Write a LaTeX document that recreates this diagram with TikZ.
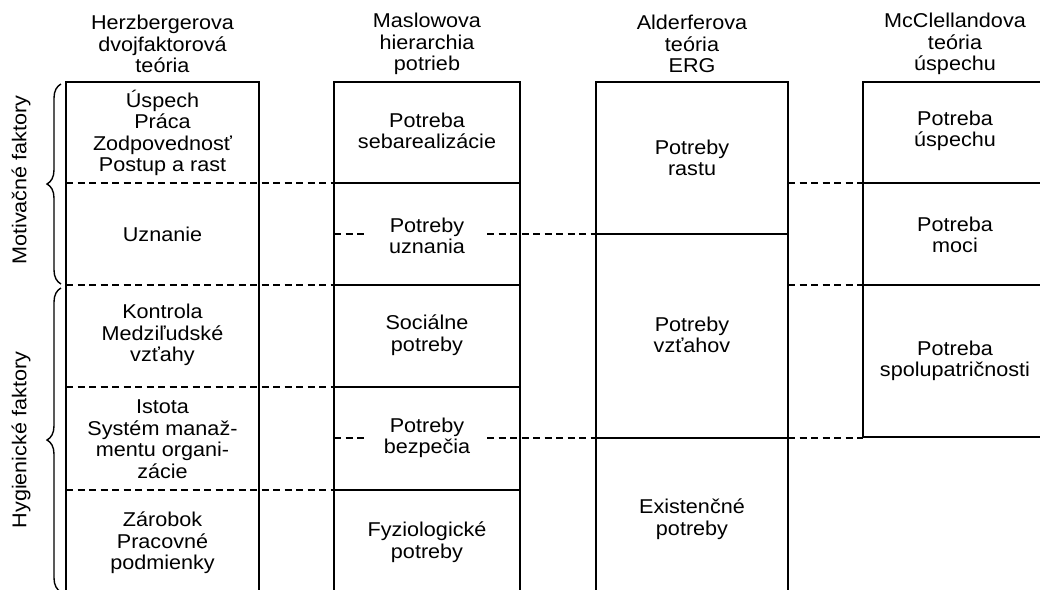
\documentclass[tikz,border=0pt]{standalone}
\usepackage{fontspec}
\setmainfont{Liberation Sans}[FakeStretch=1.08]
\usetikzlibrary{decorations.pathreplacing}
\begin{document}
\begin{tikzpicture}[x=1pt,y=-1pt,
  colbox/.style={line width=2.5pt, line join=miter},
  sepline/.style={line width=1.4pt},
  dashsep/.style={line width=1.4pt, dash pattern=on 7pt off 4.5pt},
  txt/.style={align=center, font=\fontsize{20}{21.5}\selectfont, inner sep=0pt},
  bracestyle/.style={line width=1.4pt, decorate, decoration={brace, amplitude=14pt, aspect=0.5}},
  ]
\useasboundingbox (0,0) rectangle (1040,589);

% column boxes
\draw[colbox] (66,592) -- (66,82) -- (259,82) -- (259,592);
\draw[colbox] (334,592) -- (334,82) -- (520,82) -- (520,592);
\draw[colbox] (596,592) -- (596,82) -- (788,82) -- (788,592);
\draw[colbox] (1045,82) -- (863,82) -- (863,437) -- (1045,437);

% named anchor coordinates
\coordinate (hL) at (66,0);
\coordinate (mL) at (334,0);
\coordinate (mR) at (520,0);
\coordinate (aL) at (596,0);
\coordinate (aR) at (788,0);
\coordinate (cL) at (863,0);
\coordinate (cR) at (1040,0);

% Maslow solid separators
\foreach \yy in {183,285,387,490} \draw[sepline] (mL |- 0,\yy) -- (mR |- 0,\yy);
% Herzberg dashed separators continuing to Maslow
\foreach \yy in {183,285,387,490} \draw[dashsep] (hL |- 0,\yy) -- (mL |- 0,\yy);
% Alderfer solid separators
\foreach \yy in {234,438} \draw[sepline] (aL |- 0,\yy) -- (aR |- 0,\yy);
% Maslow inner dashes to Alderfer
\foreach \yy in {234,438} {
  \draw[dashsep] (mL |- 0,\yy) -- (368,\yy);
  \draw[dashsep] (487,\yy) -- (aL |- 0,\yy);
}
% McClelland solid separators
\foreach \yy in {183,285} \draw[sepline] (cL |- 0,\yy) -- (cR |- 0,\yy);
% Alderfer to McClelland dashes
\foreach \yy in {183,285,438} \draw[dashsep] (aR |- 0,\yy) -- (cL |- 0,\yy);

% braces
\draw[bracestyle] (61,284) -- (61,84);
\draw[bracestyle] (61,592) -- (61,288);
\node[txt, rotate=90] (mot) at (21,180) {Motivačné faktory};
\node[txt, rotate=90] (hyg) at (21,440) {Hygienické faktory};

% titles
\node[txt] (t1) at (162.5,44) {Herzbergerova\\dvojfaktorová\\teória};
\node[txt] (t2) at (427,44) {Maslowova\\hierarchia\\potrieb};
\node[txt] (t3) at (692,44) {Alderferova\\teória\\ERG};
\node[txt] (t4) at (955,44) {McClellandova\\teória\\úspechu};

% Herzberg
\node[txt] (h1) at (162.5,133) {Úspech\\Práca\\Zodpovednosť\\Postup a rast};
\node[txt] (h2) at (162.5,234) {Uznanie};
\node[txt] (h3) at (162.5,335) {Kontrola\\Medziľudské\\vzťahy};
\node[txt] (h4) at (162.5,439) {Istota\\Systém manaž-\\mentu organi-\\zácie};
\node[txt] (h5) at (162.5,543) {Zárobok\\Pracovné\\podmienky};

% Maslow
\node[txt] (m1) at (427,131) {Potreba\\sebarealizácie};
\node[txt] (m2) at (427,236) {Potreby\\uznania};
\node[txt] (m3) at (427,335) {Sociálne\\potreby};
\node[txt] (m4) at (427,438) {Potreby\\bezpečia};
\node[txt] (m5) at (427,542) {Fyziologické\\potreby};

% Alderfer
\node[txt] (a1) at (692,158) {Potreby\\rastu};
\node[txt] (a2) at (692,335) {Potreby\\vzťahov};
\node[txt] (a3) at (692,519) {Existenčné\\potreby};

% McClelland
\node[txt] (c1) at (955,131) {Potreba\\úspechu};
\node[txt] (c2) at (955,235) {Potreba\\moci};
\node[txt] (c3) at (955,361) {Potreba\\spolupatričnosti};
\end{tikzpicture}
\end{document}
